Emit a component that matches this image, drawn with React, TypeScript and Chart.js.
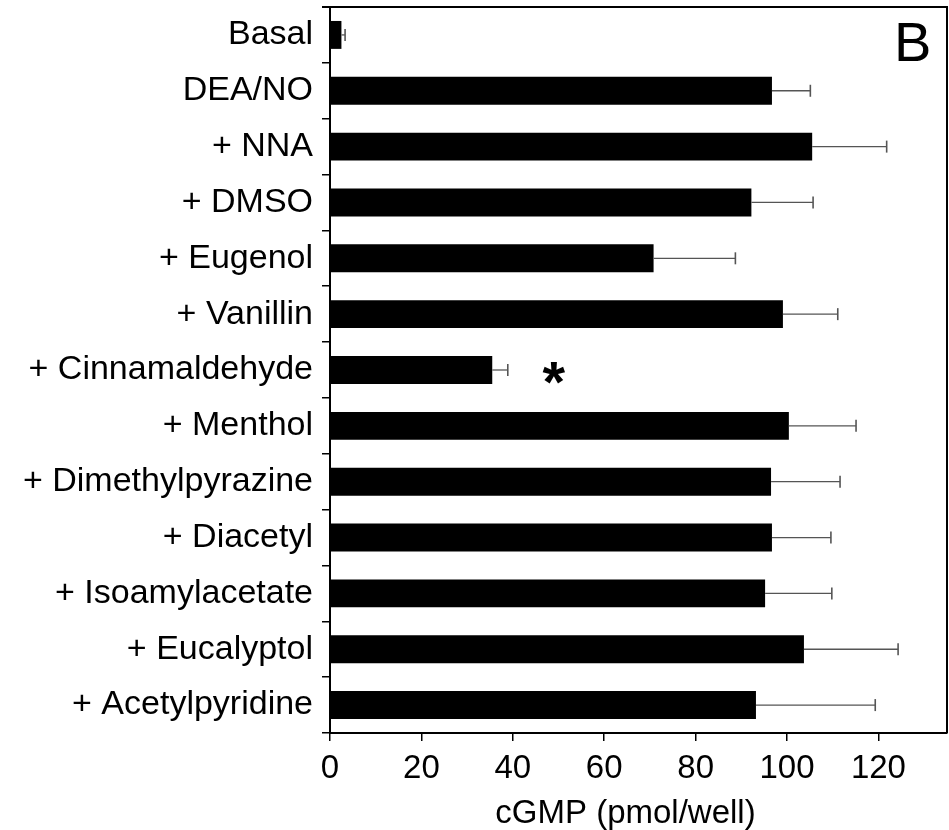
import React, { useEffect, useRef } from "react";
import { Chart, registerables } from "chart.js";

Chart.register(...registerables);

const categories = [
  "Basal",
  "DEA/NO",
  "+ NNA",
  "+ DMSO",
  "+ Eugenol",
  "+ Vanillin",
  "+ Cinnamaldehyde",
  "+ Menthol",
  "+ Dimethylpyrazine",
  "+ Diacetyl",
  "+ Isoamylacetate",
  "+ Eucalyptol",
  "+ Acetylpyridine",
];
const means = [2.5, 96.7, 105.5, 92.2, 70.8, 99.1, 35.5, 100.4, 96.5, 96.7, 95.2, 103.7, 93.2];
const errors = [0.8, 8.4, 16.3, 13.5, 17.9, 12.0, 3.4, 14.7, 15.1, 12.9, 14.6, 20.6, 26.1];
const xTickValues = [0, 20, 40, 60, 80, 100, 120];
const xMax = 135;
const significantCategory = "+ Cinnamaldehyde";
const starValue = 49;
const axisTitle = "cGMP (pmol/well)";
const panelLabel = "B";

const FONT = "'Liberation Sans', Arial, Helvetica, sans-serif";

const overlayPlugin = {
  id: "overlay",
  afterDatasetsDraw(chart: any) {
    const ctx = chart.ctx;
    const xs = chart.scales.x;
    const ys = chart.scales.y;
    const area = chart.chartArea;
    ctx.save();
    // error bars
    ctx.strokeStyle = "#555";
    means.forEach((m, i) => {
      const y = ys.getPixelForValue(i);
      const x0 = xs.getPixelForValue(m);
      const x1 = xs.getPixelForValue(m + errors[i]);
      ctx.lineWidth = 1.3;
      ctx.beginPath();
      ctx.moveTo(x0, y);
      ctx.lineTo(x1, y);
      ctx.stroke();
      ctx.lineWidth = 1.6;
      ctx.beginPath();
      ctx.moveTo(x1, y - 6);
      ctx.lineTo(x1, y + 6);
      ctx.stroke();
    });
    // frame top & right
    ctx.strokeStyle = "#000";
    ctx.lineWidth = 2;
    ctx.beginPath();
    ctx.moveTo(area.left - 8, area.top);
    ctx.lineTo(area.right, area.top);
    ctx.lineTo(area.right, area.bottom);
    ctx.stroke();
    // significance star
    ctx.fillStyle = "#000";
    ctx.font = `bold 58px ${FONT}`;
    ctx.textBaseline = "alphabetic";
    ctx.textAlign = "left";
    const si = categories.indexOf(significantCategory);
    const sx = xs.getPixelForValue(starValue);
    const sy = ys.getPixelForValue(si) + 3;
    const sm = ctx.measureText("*");
    const sw = sm.actualBoundingBoxRight + sm.actualBoundingBoxLeft;
    ctx.fillText(
      "*",
      sx - sw / 2 + sm.actualBoundingBoxLeft,
      sy + (sm.actualBoundingBoxAscent - sm.actualBoundingBoxDescent) / 2
    );
    // panel label
    ctx.font = `56px ${FONT}`;
    const bm = ctx.measureText(panelLabel);
    ctx.fillText(
      panelLabel,
      area.right - 18 - bm.actualBoundingBoxRight,
      area.top + 16 + bm.actualBoundingBoxAscent
    );
    // axis title
    ctx.font = `33px ${FONT}`;
    ctx.textAlign = "center";
    ctx.fillText(axisTitle, (area.left + area.right) / 2 - 13, 823);
    ctx.restore();
  },
};

export default function App() {
  const ref = useRef<HTMLCanvasElement | null>(null);
  useEffect(() => {
    document.body.style.margin = "0";
    const canvas = ref.current!;
    const chart = new Chart(canvas, {
      type: "bar",
      data: {
        labels: categories,
        datasets: [
          {
            data: means,
            backgroundColor: "#000",
            borderWidth: 0,
            barPercentage: 0.5,
            categoryPercentage: 1,
          },
        ],
      },
      options: {
        indexAxis: "y",
        animation: false,
        responsive: false,
        maintainAspectRatio: false,
        layout: { padding: { top: 7, right: 2, left: 0, bottom: 0 } },
        plugins: {
          legend: { display: false },
          tooltip: { enabled: false },
          title: { display: false },
        },
        scales: {
          x: {
            type: "linear",
            min: 0,
            max: xMax,
            afterBuildTicks: (s: any) => {
              s.ticks = xTickValues.map((v) => ({ value: v }));
            },
            afterFit: (s: any) => {
              s.height = 97;
              s.paddingLeft = 0;
              s.paddingRight = 0;
            },
            grid: {
              drawOnChartArea: false,
              drawTicks: true,
              tickLength: 8,
              color: "#000",
              lineWidth: 1.5,
            },
            border: { display: true, color: "#000", width: 2 },
            ticks: {
              color: "#000",
              padding: 8,
              maxRotation: 0,
              font: { family: FONT, size: 33 },
            },
          },
          y: {
            type: "category",
            afterFit: (s: any) => {
              s.width = 330;
              s.paddingTop = 0;
              s.paddingBottom = 0;
            },
            grid: {
              offset: true,
              drawOnChartArea: false,
              drawTicks: true,
              tickLength: 8,
              color: "#000",
              lineWidth: 1.5,
            },
            border: { display: true, color: "#000", width: 2 },
            ticks: {
              color: "#000",
              padding: 9,
              autoSkip: false,
              font: { family: FONT, size: 34 },
            },
          },
        },
      },
      plugins: [overlayPlugin],
    } as any);
    return () => chart.destroy();
  }, []);
  return (
    <div style={{ position: "absolute", left: 0, top: 0, width: 949, height: 830 }}>
      <canvas ref={ref} width={949} height={830} style={{ display: "block", width: 949, height: 830 }} />
    </div>
  );
}
